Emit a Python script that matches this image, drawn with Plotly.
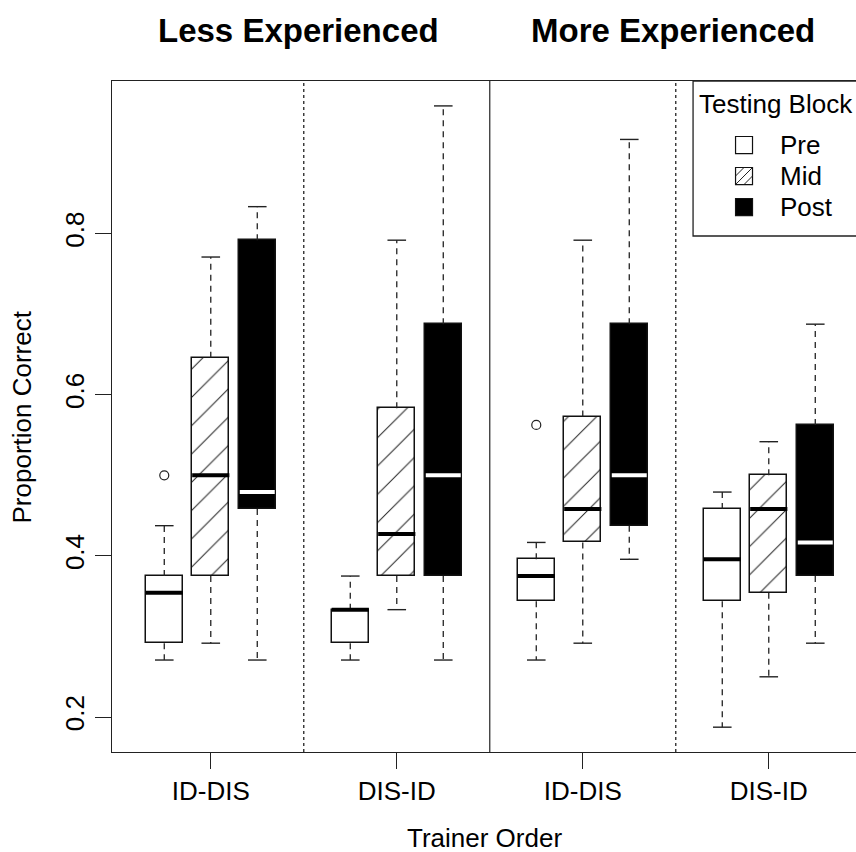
import plotly.graph_objects as go

# ---------------- data ----------------
groups = ["ID-DIS", "DIS-ID", "ID-DIS", "DIS-ID"]
group_pos = [1, 2, 3, 4]
panels = ["Less Experienced", "More Experienced"]
blocks = ["Pre", "Mid", "Post"]

pre_lower = [0.2708, 0.2708, 0.2708, 0.1875]
pre_q1 = [0.2917, 0.2917, 0.3438, 0.3438]
pre_med = [0.3542, 0.3333, 0.3750, 0.3958]
pre_q3 = [0.3750, 0.3333, 0.3958, 0.4583]
pre_upper = [0.4375, 0.3750, 0.4167, 0.4792]
pre_out_group = [1, 3]
pre_out_val = [0.5000, 0.5625]

mid_lower = [0.2917, 0.3333, 0.2917, 0.2500]
mid_q1 = [0.3750, 0.3750, 0.4167, 0.3542]
mid_med = [0.5000, 0.4271, 0.4583, 0.4583]
mid_q3 = [0.6458, 0.5833, 0.5729, 0.5000]
mid_upper = [0.7708, 0.7917, 0.7917, 0.5417]

post_lower = [0.2708, 0.2708, 0.3958, 0.2917]
post_q1 = [0.4583, 0.3750, 0.4375, 0.3750]
post_med = [0.4792, 0.5000, 0.5000, 0.4167]
post_q3 = [0.7917, 0.6875, 0.6875, 0.5625]
post_upper = [0.8333, 0.9583, 0.9167, 0.6875]

y_ticks = [0.2, 0.4, 0.6, 0.8]

# ---------------- style ----------------
FONT = "Liberation Sans, Arial, sans-serif"
BOXW = 0.2
OFFSETS = {"Pre": -0.25, "Mid": 0.0, "Post": 0.25}

stats = {
    "Pre": (pre_lower, pre_q1, pre_med, pre_q3, pre_upper),
    "Mid": (mid_lower, mid_q1, mid_med, mid_q3, mid_upper),
    "Post": (post_lower, post_q1, post_med, post_q3, post_upper),
}

fig = go.Figure()

for b in blocks:
    lo, q1, med, q3, up = stats[b]
    xs = [g + OFFSETS[b] for g in group_pos]
    # whiskers (dashed) and caps
    wx, wy = [], []
    cx, cy = [], []
    for x, l, a, c, u in zip(xs, lo, q1, q3, up):
        wx += [x, x, None, x, x, None]
        wy += [c, u, None, a, l, None]
        cx += [x - BOXW / 4, x + BOXW / 4, None, x - BOXW / 4, x + BOXW / 4, None]
        cy += [u, u, None, l, l, None]
    fig.add_trace(go.Scatter(x=wx, y=wy, mode="lines", showlegend=False, hoverinfo="skip",
                             line=dict(color="#222", width=1.3, dash="6px,5px")))
    fig.add_trace(go.Scatter(x=cx, y=cy, mode="lines", showlegend=False, hoverinfo="skip",
                             line=dict(color="#222", width=1.4)))
    # boxes
    if b == "Pre":
        marker = dict(color="white", line=dict(color="#111", width=1.5))
    elif b == "Mid":
        marker = dict(color="white", line=dict(color="#111", width=1.5),
                      pattern=dict(shape="/", fgcolor="#222", bgcolor="white",
                                   size=20, solidity=0.05, fillmode="replace"))
    else:
        marker = dict(color="black", line=dict(color="#111", width=1.5))
    fig.add_trace(go.Bar(x=xs, y=[c - a for a, c in zip(q1, q3)], base=q1, width=BOXW,
                         marker=marker, name=b, showlegend=False))
    # medians
    mx, my = [], []
    inset = 0.006 if b == "Post" else 0.0
    for x, m in zip(xs, med):
        mx += [x - BOXW / 2 + inset, x + BOXW / 2 - inset, None]
        my += [m, m, None]
    fig.add_trace(go.Scatter(x=mx, y=my, mode="lines", showlegend=False, hoverinfo="skip",
                             line=dict(color="white" if b == "Post" else "black", width=4)))

# outliers
fig.add_trace(go.Scatter(x=[g + OFFSETS["Pre"] for g in pre_out_group], y=pre_out_val,
                         mode="markers", showlegend=False,
                         marker=dict(symbol="circle-open", size=9, color="#222",
                                     line=dict(width=1.2))))

# separators between groups / panels
for xv, d in [(1.5, "dot"), (2.5, "solid"), (3.5, "dot")]:
    fig.add_shape(type="line", xref="x", yref="paper", x0=xv, x1=xv, y0=0, y1=1,
                  line=dict(color="#222", width=1.2 if d == "solid" else 1.3, dash=d))

# panel titles
for xc, p in zip([1.47, 3.485], panels):
    fig.add_annotation(x=xc, xref="x", y=1.075, yref="paper", text="<b>%s</b>" % p,
                       showarrow=False, font=dict(family=FONT, size=33, color="black"),
                       xanchor="center", yanchor="middle")

# axis titles
fig.add_annotation(x=0.5, xref="paper", y=-0.128, yref="paper", text="Trainer Order",
                   showarrow=False, font=dict(family=FONT, size=26, color="black"),
                   xanchor="center", yanchor="middle")
fig.add_annotation(x=-0.121, xref="paper", y=0.5, yref="paper", text="Proportion Correct",
                   showarrow=False, textangle=-90, font=dict(family=FONT, size=26, color="black"),
                   xanchor="center", yanchor="middle")

# ---- manual legend ----
L_X0, L_Y0 = 0.781, 0.769
fig.add_shape(type="rect", xref="paper", yref="paper", x0=L_X0, x1=1.1, y0=L_Y0, y1=1.0,
              line=dict(color="#222", width=1.3), fillcolor="white", layer="above")
fig.add_annotation(x=0.786, xref="paper", y=0.966, yref="paper", text="Testing Block",
                   showarrow=False, font=dict(family=FONT, size=26, color="black"),
                   xanchor="left", yanchor="middle")
leg_rows = [0.9046, 0.8584, 0.8122]
sx, hw, hh = 0.8495, 0.0114, 0.0127
for b, yc in zip(blocks, leg_rows):
    fill = "black" if b == "Post" else "white"
    fig.add_shape(type="rect", xref="paper", yref="paper", x0=sx - hw, x1=sx + hw,
                  y0=yc - hh, y1=yc + hh, line=dict(color="#111", width=1.2),
                  fillcolor=fill, layer="above")
    if b == "Mid":
        for c in (-0.5, 0.0, 0.5):
            ax0, ay0 = max(0, -c), max(0, c)
            ax1, ay1 = min(1, 1 - c), min(1, 1 + c)
            fig.add_shape(type="line", xref="paper", yref="paper",
                          x0=sx - hw + ax0 * 2 * hw, y0=yc - hh + ay0 * 2 * hh,
                          x1=sx - hw + ax1 * 2 * hw, y1=yc - hh + ay1 * 2 * hh,
                          line=dict(color="#222", width=1), layer="above")
    fig.add_annotation(x=0.8952, xref="paper", y=yc, yref="paper", text=b, showarrow=False,
                       font=dict(family=FONT, size=26, color="black"),
                       xanchor="left", yanchor="middle")

fig.update_layout(
    width=856, height=852,
    margin=dict(l=112, r=0, t=81, b=100),
    paper_bgcolor="white", plot_bgcolor="white",
    barmode="overlay", bargap=0,
    font=dict(family=FONT, size=26, color="black"),
    showlegend=False,
    xaxis=dict(range=[0.469, 4.469], tickvals=group_pos, ticktext=groups,
               showline=True, linecolor="#222", linewidth=1.3, mirror=True,
               ticks="outside", ticklen=16, tickcolor="#222", tickwidth=1.3,
               showgrid=False, zeroline=False, ticklabelstandoff=0,
               tickfont=dict(family=FONT, size=26, color="black")),
    yaxis=dict(range=[0.1567, 0.9892], tickvals=y_ticks,
               ticktext=[str(v) for v in y_ticks],
               showline=True, linecolor="#222", linewidth=1.3,
               ticks="outside", ticklen=16, tickcolor="#222", tickwidth=1.3,
               tickangle=-90, showgrid=False, zeroline=False,
               tickfont=dict(family=FONT, size=26, color="black")),
)

fig.write_html("out.html")
